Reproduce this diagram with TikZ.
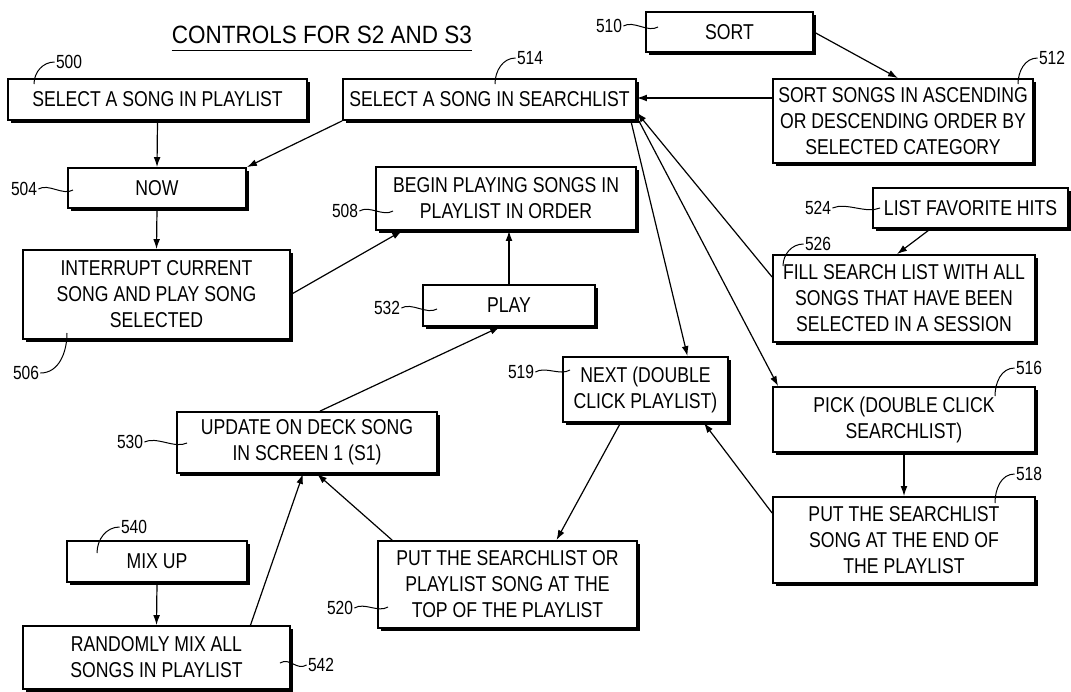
\documentclass[tikz,border=0pt]{standalone}
\usepackage{fontspec}
\setmainfont{Liberation Sans}[FakeStretch=0.82]
\newfontfamily\ttlfont{Liberation Sans}[FakeStretch=0.9]
\usetikzlibrary{arrows.meta,shadows,calc}

\begin{document}
\begin{tikzpicture}[x=0.5pt, y=0.5pt, >={Latex[length=5pt,width=3.4pt]},
  blk/.style={draw, fill=white, line width=0.9pt, align=center, inner sep=1pt,
    font=\fontsize{10.75}{13}\selectfont,
    drop shadow={shadow xshift=1.3pt, shadow yshift=-1.3pt, fill=black, opacity=1}},
  lbl/.style={inner sep=0.5pt, font=\fontsize{9.5}{11}\selectfont},
  lead/.style={line width=0.5pt},
  flow/.style={->, line width=0.6pt}]
\useasboundingbox (0,0) rectangle (1071,-691);
\node[inner sep=0pt, font=\ttlfont\fontsize{12.5}{14}\selectfont] (ttl) at (322,-35) {CONTROLS FOR S2 AND S3};
\draw[line width=0.6pt] ([yshift=-3.5pt]ttl.base west) -- ([yshift=-3.5pt]ttl.base east);
% left column
\node[blk, minimum width=149.5pt, minimum height=20.5pt] (b500) at (157.5,-99.5) {SELECT A SONG IN PLAYLIST};
\node[blk, minimum width=89pt, minimum height=20pt] (b504) at (157,-188) {NOW};
\node[blk, minimum width=133.5pt, minimum height=44.5pt] (b506) at (156.5,-294.5) {INTERRUPT CURRENT\\SONG AND PLAY SONG\\SELECTED};
\node[blk, minimum width=130pt, minimum height=30.5pt] (b530) at (307,-442.5) {UPDATE ON DECK SONG\\IN SCREEN 1 (S1)};
\node[blk, minimum width=90pt, minimum height=20.5pt] (b540) at (157,-561.5) {MIX UP};
\node[blk, minimum width=133.5pt, minimum height=31.5pt] (b542) at (156.5,-657.5) {RANDOMLY MIX ALL\\SONGS IN PLAYLIST};
% middle column
\node[blk, minimum width=146.5pt, minimum height=20.5pt] (b514) at (489.5,-99.5) {SELECT A SONG IN SEARCHLIST};
\node[blk, minimum width=130pt, minimum height=31.5pt] (b508) at (506,-198.5) {BEGIN PLAYING SONGS IN\\PLAYLIST IN ORDER};
\node[blk, minimum width=86pt, minimum height=20.5pt] (b532) at (509,-305.5) {PLAY};
\node[blk, minimum width=82.5pt, minimum height=32.5pt] (b519) at (645.5,-389.5) {NEXT (DOUBLE\\CLICK PLAYLIST)};
\node[blk, minimum width=129.5pt, minimum height=43.5pt] (b520) at (507.5,-584.5) {PUT THE SEARCHLIST OR\\PLAYLIST SONG AT THE\\TOP OF THE PLAYLIST};
% right column
\node[blk, minimum width=83.5pt, minimum height=20pt] (b510) at (729.5,-32) {SORT};
\node[blk, minimum width=130pt, minimum height=42pt] (b512) at (903,-121) {SORT SONGS IN ASCENDING\\OR DESCENDING ORDER BY\\SELECTED CATEGORY};
\node[blk, minimum width=97.5pt, minimum height=20pt] (b524) at (970.5,-208) {LIST FAVORITE HITS};
\node[blk, minimum width=131pt, minimum height=43.5pt] (b526) at (904,-298.5) {FILL SEARCH LIST WITH ALL\\SONGS THAT HAVE BEEN\\SELECTED IN A SESSION};
\node[blk, minimum width=131pt, minimum height=32.5pt] (b516) at (904,-419.5) {PICK (DOUBLE CLICK\\SEARCHLIST)};
\node[blk, minimum width=131pt, minimum height=43pt] (b518) at (904,-540) {PUT THE SEARCHLIST\\SONG AT THE END OF\\THE PLAYLIST};
% reference numerals
\node[lbl] (l500) at (69,-62) {500};
\node[lbl] (l504) at (24,-189) {504};
\node[lbl] (l506) at (26,-373) {506};
\node[lbl] (l508) at (345,-211) {508};
\node[lbl] (l510) at (609,-26) {510};
\node[lbl] (l512) at (1052,-58) {512};
\node[lbl] (l514) at (530,-58) {514};
\node[lbl] (l516) at (1029,-368) {516};
\node[lbl] (l518) at (1029,-474) {518};
\node[lbl] (l519) at (521,-372) {519};
\node[lbl] (l520) at (340,-608) {520};
\node[lbl] (l524) at (818,-208) {524};
\node[lbl] (l526) at (818,-244) {526};
\node[lbl] (l530) at (130,-442) {530};
\node[lbl] (l532) at (387,-308) {532};
\node[lbl] (l540) at (134,-527) {540};
\node[lbl] (l542) at (321,-665) {542};
% leader lines
\draw[lead] (l500.west) to[out=180,in=90] (34,-84);
\draw[lead] (l514.west) to[out=180,in=90] (495,-84);
\draw[lead] (l512.west) to[out=180,in=90] (1018,-84);
\draw[lead] (l516.west) to[out=180,in=90] (995,-396);
\draw[lead] (l518.west) to[out=180,in=90] (995,-503);
\draw[lead] (l526.west) to[out=180,in=90] (783,-266);
\draw[lead] (l540.west) to[out=180,in=90] (97,-553);
\draw[lead] (67,-333) to[out=-90,in=0] (l506.east);
\draw[lead] (l504.east) .. controls +(10,6) and +(-10,-6) .. (73,-190);
\draw[lead] (l508.east) .. controls +(10,6) and +(-10,-6) .. (393,-211);
\draw[lead] (l510.east) .. controls +(10,6) and +(-10,-6) .. (658,-27);
\draw[lead] (l519.east) .. controls +(10,6) and +(-10,-6) .. (570,-370);
\draw[lead] (l532.east) .. controls +(10,6) and +(-10,-6) .. (437,-309);
\draw[lead] (l530.east) .. controls +(12,6) and +(-12,-6) .. (187,-443);
\draw[lead] (l520.east) .. controls +(10,6) and +(-10,-6) .. (388,-607);
\draw[lead] (l524.east) .. controls +(14,6) and +(-14,-6) .. (880,-208);
\draw[lead] (280,-663) .. controls +(10,6) and +(-10,-6) .. (l542.west);
% flow arrows
\draw[flow] (b500.south) -- (b504.north);
\draw[flow] (b504.south) -- (b506.north);
\draw[flow] (b514.south west) -- (b504.north east);
\draw[flow] (b506.east) -- ([xshift=13.5pt]b508.south west);
\draw[flow] (b532.north) -- (b532.north |- b508.south);
\draw[flow] ([xshift=6.5pt]b530.north) -- ([xshift=-4.5pt]b532.south);
\draw[flow] ([xshift=47pt]b542.north) -- ([xshift=-2pt]b530.south);
\draw[flow] ([xshift=7.5pt]b520.north west) -- ([xshift=5pt]b530.south);
\draw[flow] (b540.south) -- (b542.north);
\draw[flow] (b510.east) -- ([xshift=-2.5pt]b512.north);
\draw[flow] ([yshift=11.5pt]b512.west) -- ([yshift=11.5pt]b512.west -| b514.east);
\draw[flow] ([xshift=-20pt]b524.south) -- ([xshift=-3.5pt]b526.north);
\draw[flow] ([yshift=10.75pt]b526.west) -- ([yshift=-6.5pt]b514.east);
\draw[flow] ([xshift=-3pt]b514.south east) -- ([xshift=21pt]b519.north);
\draw[flow] ([xshift=1pt]b514.south east) -- ([xshift=3pt]b516.north west);
\draw[flow] (b516.south) -- (b518.north);
\draw[flow] ([yshift=13.5pt]b518.west) -- ([xshift=-12.5pt]b519.south east);
\draw[flow] ([xshift=-12.5pt]b519.south) -- ([xshift=24.5pt]b520.north);
\end{tikzpicture}
\end{document}
